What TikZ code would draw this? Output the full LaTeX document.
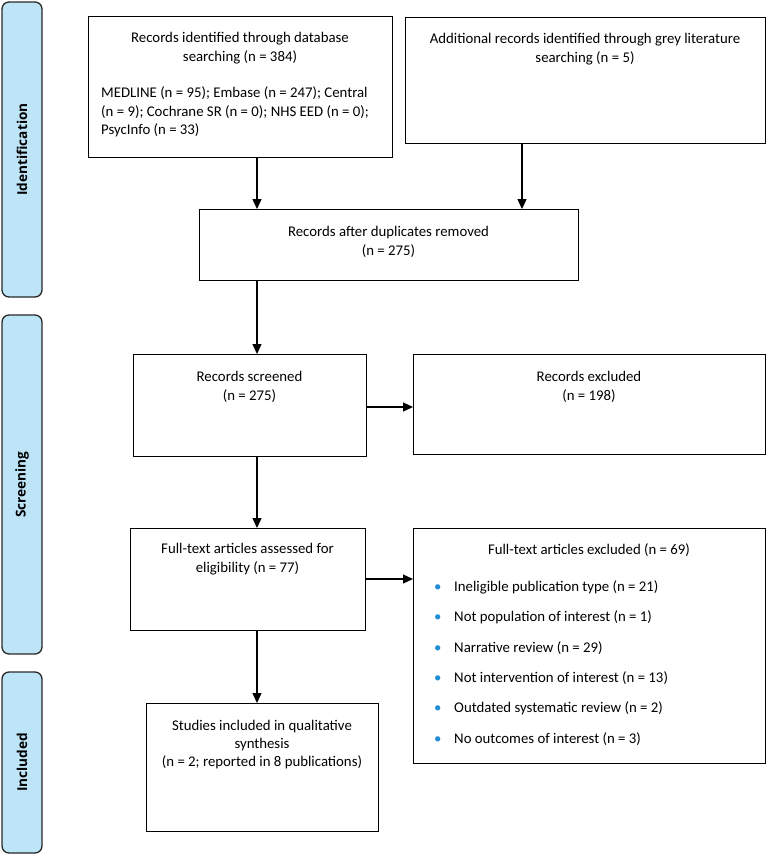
\documentclass[tikz,border=0pt]{standalone}
\usepackage{fontspec}
\setmainfont{Carlito}
\newfontfamily\barfont{Open Sans}
\usetikzlibrary{arrows.meta}
\definecolor{barfill}{RGB}{190,228,248}
\definecolor{barline}{RGB}{40,40,40}
\definecolor{bulletblue}{RGB}{31,142,214}
\newcommand\blt{\makebox[20pt][l]{\textcolor{bulletblue}{\textbullet}}}
\tikzset{
  box/.style={draw=black, line width=1.4pt, inner sep=0pt, anchor=north west},
  bar/.style={draw=barline, fill=barfill, line width=1.3pt, rounded corners=7pt,
    rotate=90, minimum height=40pt, inner sep=0pt,
    font=\barfont\bfseries\fontsize{13.6}{16}\selectfont},
  body/.style={font=\fontsize{14.8}{18.5}\selectfont, inner sep=0pt, align=center, anchor=north},
  arr/.style={line width=1.3pt, -{Triangle[length=10pt,width=9pt]}},
}
\begin{document}
\begin{tikzpicture}[x=1pt,y=-1pt]
\useasboundingbox (0,0) rectangle (766,855);
% side bars
\node[bar, minimum width=295pt] (S1) at (22,149.5) {Identification};
\node[bar, minimum width=339pt] (S2) at (22,484.5) {Screening};
\node[bar, minimum width=181pt] (S3) at (22,762.5) {Included};
% boxes
\node[box, minimum width=304pt, minimum height=141pt] (A) at (88,16) {};
\node[box, minimum width=360pt, minimum height=126pt] (B) at (405,17) {};
\node[box, minimum width=379pt, minimum height=71pt] (C) at (199,209) {};
\node[box, minimum width=233pt, minimum height=102pt] (D) at (133,354) {};
\node[box, minimum width=352pt, minimum height=100pt] (E) at (413,354) {};
\node[box, minimum width=235pt, minimum height=102pt] (F) at (130,528) {};
\node[box, minimum width=352pt, minimum height=235pt] (G) at (413,528) {};
\node[box, minimum width=232pt, minimum height=128pt] (H) at (146,703) {};
% texts
\node[body] (At) at (240,32.5) {Records identified through database\\searching (n = 384)};
\node[body, align=left, anchor=north west] (Al) at (101,86.5) {MEDLINE (n = 95); Embase (n = 247); Central\\(n = 9); Cochrane SR (n = 0); NHS EED (n = 0);\\PsycInfo (n = 33)};
\node[body] (Bt) at (585,33.5) {Additional records identified through grey literature\\searching (n = 5)};
\node[body] (Ct) at (388.5,226.5) {Records after duplicates removed\\(n = 275)};
\node[body] (Dt) at (249.5,371.5) {Records screened\\(n = 275)};
\node[body] (Et) at (589,371.5) {Records excluded\\(n = 198)};
\node[body] (Ft) at (247.5,543.5) {Full-text articles assessed for\\eligibility (n = 77)};
\node[body] (Gt) at (589,543.5) {Full-text articles excluded (n = 69)};
\node[body, align=left, anchor=north west, font=\fontsize{14.8}{30.3}\selectfont] (Gl) at (434,580.5) {%
\blt Ineligible publication type (n = 21)\\
\blt Not population of interest (n = 1)\\
\blt Narrative review (n = 29)\\
\blt Not intervention of interest (n = 13)\\
\blt Outdated systematic review (n = 2)\\
\blt No outcomes of interest (n = 3)};
\node[body, font=\fontsize{14.8}{18}\selectfont] (Ht) at (262,720.5) {Studies included in qualitative\\synthesis\\(n = 2; reported in 8 publications)};
% connector x positions
\coordinate (x1) at (257,0);
\coordinate (x2) at (522,0);
\coordinate (y1) at (0,407);
\coordinate (y2) at (0,579);
% arrows
\draw[arr] (A.south -| x1) -- (C.north -| x1);
\draw[arr] (B.south -| x2) -- (C.north -| x2);
\draw[arr] (C.south -| x1) -- (D.north -| x1);
\draw[arr] (D.east |- y1) -- (E.west |- y1);
\draw[arr] (D.south -| x1) -- (F.north -| x1);
\draw[arr] (F.east |- y2) -- (G.west |- y2);
\draw[arr] (F.south -| x1) -- (H.north -| x1);
\end{tikzpicture}
\end{document}
